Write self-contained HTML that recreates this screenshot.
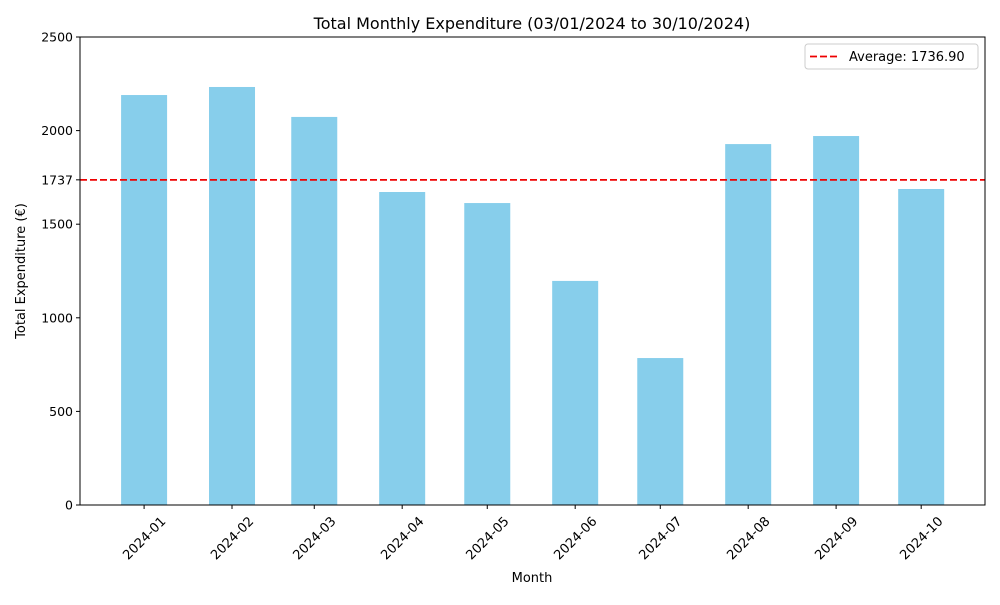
<!DOCTYPE html>
<html><head><meta charset="utf-8"><style>
body{margin:0;background:#fff;font-family:"Liberation Sans","DejaVu Sans",sans-serif}
svg text{font-family:"DejaVu Sans","Liberation Sans",sans-serif}
</style></head><body>
<svg id="c" width="1000" height="600" xmlns="http://www.w3.org/2000/svg"></svg>
<script>
const months=["2024-01","2024-02","2024-03","2024-04","2024-05","2024-06","2024-07","2024-08","2024-09","2024-10"];
const values=[2190,2233,2073,1672,1613,1197,785,1928,1971,1688];
const average=1736.90;
const yTicks=[0,500,1000,1500,2000,2500];
const L=80,R=985,T=37,B=505;
const svg=document.getElementById('c');const NS="http://www.w3.org/2000/svg";
function el(t,a,p){const e=document.createElementNS(NS,t);for(const k in a)e.setAttribute(k,a[k]);(p||svg).appendChild(e);return e;}
const d0=Date.UTC(2024,0,1);
function day(m){const [y,mo]=m.split('-').map(Number);return (Date.UTC(y,mo-1,1)-d0)/86400000;}
const xmin=-22.6,xmax=296.5;
function x(d){return L+(d-xmin)/(xmax-xmin)*(R-L);}
function y(v){return B-v/2500*(B-T);}
const bw=46;
months.forEach((m,i)=>{const cx=x(day(m));
const r=el('rect',{x:cx-bw/2,y:y(values[i]),width:bw,height:B-y(values[i]),fill:'#87ceeb'});


el('line',{x1:cx,x2:cx,y1:B,y2:B+4,stroke:'#000'});
const cy=B+33;
const t=el('text',{x:cx,y:cy+4.5,'font-size':13,'text-anchor':'middle',transform:`rotate(-45 ${cx} ${cy})`});t.textContent=m;


});
const yt=yTicks.concat([Math.round(average)]);
yt.forEach(v=>{el('line',{x1:L-4,x2:L,y1:y(v),y2:y(v),stroke:'#000'});
const t=el('text',{x:L-7,y:y(v)+4.5,'font-size':12.5,'text-anchor':'end'});t.textContent=v;

});
const al=el('line',{x1:L,x2:R,y1:y(average),y2:y(average),stroke:'#e00',"stroke-width":1.8,"stroke-dasharray":"7,3"});


const ax=el('rect',{x:L,y:T,width:R-L,height:B-T,fill:'none',stroke:'#000'});


let t=el('text',{x:532,y:29,'font-size':16,'text-anchor':'middle'});t.textContent='Total Monthly Expenditure (03/01/2024 to 30/10/2024)';


t=el('text',{x:532,y:582,'font-size':13,'text-anchor':'middle'});t.textContent='Month';


t=el('text',{x:25,y:271,'font-size':13,'text-anchor':'middle',transform:'rotate(-90 25 271)'});t.textContent='Total Expenditure (€)';


const lg=el('g',{});


el('rect',{x:805,y:44,width:173,height:25,rx:3,fill:'#fff',stroke:'#ccc'},lg);
el('line',{x1:810,x2:838,y1:56.5,y2:56.5,stroke:'#e00','stroke-width':1.8,'stroke-dasharray':'7,3'},lg);
t=el('text',{x:849,y:61,'font-size':13},lg);t.textContent='Average: '+average.toFixed(2);
</script>
</body></html>
